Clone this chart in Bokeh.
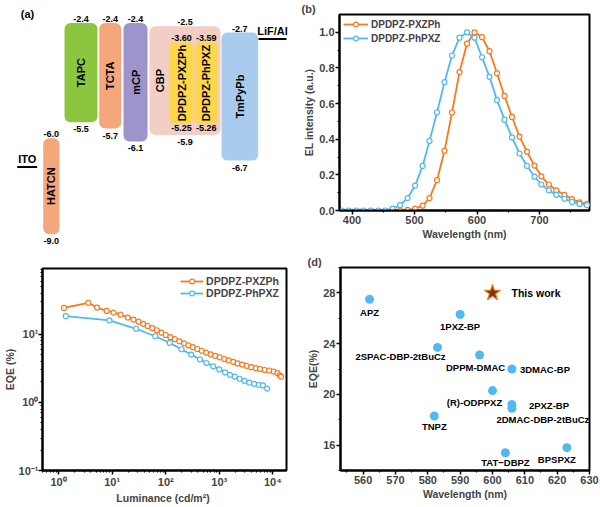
import math
from bokeh.plotting import figure
from bokeh.layouts import column, row
from bokeh.models import (Range1d, FixedTicker, Label, Legend, LegendItem, ColumnDataSource,
                          CustomJSTickFormatter)
from bokeh.embed import file_html
from bokeh.resources import INLINE
from bokeh.core.properties import value

FONT = "Liberation Sans"
ORANGE = "#f77a1c"
BLUE = "#52b8ef"

# ---------------- (a) energy level diagram data ----------------
host_names = ["HATCN", "TAPC", "TCTA", "mCP", "CBP", "TmPyPb"]
host_lumo = [-6.0, -2.4, -2.4, -2.4, -2.5, -2.7]
host_homo = [-9.0, -5.5, -5.7, -6.1, -5.9, -6.7]
host_lumo_labels = ["-6.0", "-2.4", "-2.4", "-2.4", "-2.5", "-2.7"]
host_homo_labels = ["-9.0", "-5.5", "-5.7", "-6.1", "-5.9", "-6.7"]
dopant_names = ["DPDPZ-PXZPh", "DPDPZ-PhPXZ"]
dopant_lumo = [-3.60, -3.59]
dopant_homo = [-5.25, -5.26]
dopant_lumo_labels = ["-3.60", "-3.59"]
dopant_homo_labels = ["-5.25", "-5.26"]
electrode_names = ["ITO", "LiF/Al"]
electrode_levels = [-6.9, -2.9]

# ---------------- (b) EL spectra ----------------
wl_phpxz = [384, 395, 407, 418, 430, 442, 453, 465, 477, 489, 501, 513, 524, 536, 548, 560, 572,
            584, 596, 608, 620, 632, 644, 656, 668, 680, 692, 703, 715, 727, 740, 752, 764, 776]
el_phpxz = [0.0, 0.0, 0.0, 0.0, 0.0, 0.0, 0.0, 0.01, 0.03, 0.07, 0.14, 0.25, 0.39, 0.55, 0.72, 0.87,
            0.97, 1.0, 0.97, 0.86, 0.75, 0.62, 0.51, 0.41, 0.32, 0.25, 0.19, 0.146, 0.113, 0.088,
            0.066, 0.048, 0.037, 0.03]
wl_pxzph = [477, 489, 501, 513, 524, 536, 548, 560, 572, 584, 596, 608, 620, 632, 644, 656, 668,
            680, 692, 703, 715, 727, 740, 752, 764, 776]
el_pxzph = [0.0, 0.004, 0.01, 0.027, 0.07, 0.17, 0.335, 0.55, 0.777, 0.936, 1.0, 0.973, 0.894,
            0.77, 0.643, 0.525, 0.415, 0.33, 0.252, 0.192, 0.146, 0.113, 0.088, 0.064, 0.046, 0.037]

# ---------------- (c) EQE vs luminance ----------------
lum_pxzph = [1.26, 3.59, 5.2, 7.9, 10.6, 14.4, 19.6, 25, 31, 38, 46, 56, 68, 83, 100, 122, 148,
             180, 220, 265, 320, 390, 470, 570, 690, 840, 1020, 1240, 1500, 1820, 2200, 2680,
             3250, 3950, 4800, 5800, 7050, 8550, 10400, 12200, 13500, 14200]
eqe_pxzph = [24.5, 29.1, 24.8, 22.1, 20.9, 19.5, 17.7, 16.5, 15.4, 14.3, 13.3, 12.4, 11.5, 10.6,
             9.8, 9.1, 8.5, 7.9, 7.4, 6.9, 6.5, 6.1, 5.75, 5.4, 5.1, 4.85, 4.6, 4.35, 4.15, 3.95,
             3.75, 3.6, 3.45, 3.3, 3.2, 3.1, 3.0, 2.95, 2.85, 2.7, 2.5, 2.4]
lum_phpxz = [1.36, 8.9, 28, 63.7, 119, 197, 299, 436, 577, 769, 1000, 1285, 1585, 1950, 2400,
             2950, 3640, 4470, 5500, 6530, 7850]
eqe_phpxz = [18.5, 16.1, 12.1, 9.4, 7.5, 6.05, 5.05, 4.3, 3.8, 3.39, 3.06, 2.76, 2.55, 2.39, 2.23,
             2.08, 1.96, 1.88, 1.82, 1.78, 1.6]

# ---------------- (d) comparison ----------------
cmp_names = ["APZ", "1PXZ-BP", "2SPAC-DBP-2tBuCz", "DPPM-DMAC", "3DMAC-BP", "(R)-ODPPXZ",
             "2PXZ-BP", "2DMAC-DBP-2tBuCz", "TNPZ", "TAT\u2212DBPZ", "BPSPXZ"]
cmp_wl = [562, 590, 583, 596, 606, 600, 606, 606, 582, 604, 623]
cmp_eqe = [27.5, 26.3, 23.7, 23.1, 22.0, 20.3, 19.2, 18.9, 18.3, 15.4, 15.8]
this_name = ["This work"]
this_wl = [600]
this_eqe = [28.0]

# ================= styles / layout =================
host_left = [42.7, 64, 98.7, 123, 149, 221]
host_right = [59, 97, 120.7, 147, 220, 257.7]
host_colors = ["#f5a77c", "#8cc63f", "#f5a77c", "#9e94cb", "#f2cec4", "#a9cbee"]
host_name_dx = [0, 0, 0, 0, -25.5, 0]
dopant_left = [169.3, 194.3]
dopant_right = [192.7, 217.3]
dopant_color = "#fdd64a"
DOPANT_HOST = 4            # index of CBP in the host lists
DOPANT_INSET_TOP = 16      # px, schematic inset of dopant boxes inside the host box
DOPANT_INSET_BOTTOM = 11
electrode_left = [16.7, 258]
electrode_right = [36.7, 286]


def base_style(p):
    p.xgrid.visible = False
    p.ygrid.visible = False
    p.outline_line_color = "black"
    p.outline_line_width = 2
    for ax in p.axis:
        ax.axis_line_width = 2
        ax.major_tick_line_width = 1.5
        ax.minor_tick_line_width = 1.2
        ax.major_tick_in = 0
        ax.major_tick_out = 4
        ax.minor_tick_in = 0
        ax.minor_tick_out = 2
        ax.major_label_text_font = FONT
        ax.major_label_text_font_style = "bold"
        ax.major_label_text_font_size = "11px"
        ax.axis_label_text_font = FONT
        ax.axis_label_text_font_style = "bold"
        ax.axis_label_text_font_size = "10.5px"
        ax.major_label_standoff = 1
        ax.axis_label_standoff = 1


def panel_label(p, text, x, y):
    p.add_layout(Label(x=x, y=y, x_units="canvas", y_units="canvas", text=text,
                       text_font=FONT, text_font_style="bold", text_font_size="11px",
                       text_baseline="middle", text_align="center"))


def panel_title(p, text, offset):
    p.title.text = text
    p.title.align = "left"
    p.title.offset = offset
    p.title.standoff = 0
    p.title.text_font = FONT
    p.title.text_font_style = "bold"
    p.title.text_font_size = "11px"


def no_align(p):
    if "frame_align" in p.properties():
        p.frame_align = False


TXT = dict(text_font=value(FONT), text_font_style="bold")

# ---------------- panel (a) ----------------
PX_PER_EV = 32.0
A_H = 253
TOP_PX = 22.5   # pixel row of -2.4 eV
pa = figure(width=300, height=A_H, x_range=Range1d(0, 300),
            y_range=Range1d(-2.4 - (A_H - TOP_PX) / PX_PER_EV, -2.4 + TOP_PX / PX_PER_EV),
            x_axis_location=None, y_axis_location=None, toolbar_location=None,
            output_backend="svg", min_border=0)
no_align(pa)
pa.outline_line_color = None
pa.grid.visible = False

cx_h = [(l + r) / 2 for l, r in zip(host_left, host_right)]
src_h = ColumnDataSource(dict(left=host_left, right=host_right, top=host_lumo, bottom=host_homo,
                              color=host_colors, name=host_names,
                              mid=[(a + b) / 2 for a, b in zip(host_lumo, host_homo)],
                              cx=cx_h, nx=[c + d for c, d in zip(cx_h, host_name_dx)],
                              lt=host_lumo_labels, ht=host_homo_labels))
pa.quad(left="left", right="right", top="top", bottom="bottom", fill_color="color",
        line_color=None, border_radius=6, source=src_h)
pa.text(x="nx", y="mid", text="name", angle=math.pi / 2, text_align="center",
        text_baseline="middle", text_font_size="11px", source=src_h, **TXT)
pa.text(x="cx", y="top", text="lt", text_align="center", text_baseline="bottom", y_offset=-1,
        text_font_size="9px", source=src_h, **TXT)
pa.text(x="cx", y="bottom", text="ht", text_align="center", text_baseline="top", y_offset=4,
        text_font_size="9px", source=src_h, **TXT)

# dopant boxes drawn as insets of the CBP host box (schematic, as in the original diagram)
d_top = [host_lumo[DOPANT_HOST] - DOPANT_INSET_TOP / PX_PER_EV] * len(dopant_names)
d_bot = [host_homo[DOPANT_HOST] + DOPANT_INSET_BOTTOM / PX_PER_EV] * len(dopant_names)
cx_d = [(l + r) / 2 for l, r in zip(dopant_left, dopant_right)]
src_d_a = ColumnDataSource(dict(left=dopant_left, right=dopant_right, top=d_top, bottom=d_bot,
                                name=dopant_names, mid=[(a + b) / 2 for a, b in zip(d_top, d_bot)],
                                cx=cx_d, lt=dopant_lumo_labels, ht=dopant_homo_labels))
pa.quad(left="left", right="right", top="top", bottom="bottom", fill_color=dopant_color,
        line_color=None, border_radius=5, source=src_d_a)
pa.text(x="cx", y="mid", text="name", angle=math.pi / 2, text_align="center",
        text_baseline="middle", text_font_size="11px", source=src_d_a, **TXT)
pa.text(x="cx", y="top", text="lt", text_align="center", text_baseline="bottom", y_offset=-1,
        text_font_size="9px", source=src_d_a, **TXT)
pa.text(x="cx", y="bottom", text="ht", text_align="center", text_baseline="top", y_offset=1,
        text_font_size="9px", source=src_d_a, **TXT)

src_e = ColumnDataSource(dict(x0=electrode_left, x1=electrode_right, y=electrode_levels,
                              cx=[(a + b) / 2 for a, b in zip(electrode_left, electrode_right)],
                              name=electrode_names))
pa.segment(x0="x0", x1="x1", y0="y", y1="y", line_color="black", line_width=2, source=src_e)
pa.text(x="cx", y="y", text="name", text_align="center", text_baseline="bottom", y_offset=-2,
        text_font_size="11px", source=src_e, **TXT)
# panel letter (a): placed at pixel (27, 13) of this axis-less frame
pa.text(x=[27], y=[-2.4 + (TOP_PX - 13) / PX_PER_EV], text=["(a)"], text_align="center",
        text_baseline="middle", text_font_size="11px", **TXT)

# ---------------- panel (b) ----------------
pb = figure(width=300, height=253, x_range=Range1d(380, 780), y_range=Range1d(0, 1.1),
            toolbar_location=None, output_backend="svg",
            min_border_left=38, min_border_right=11, min_border_top=5, min_border_bottom=43,
            x_axis_label="Wavelength (nm)", y_axis_label="EL intensity (a.u.)")
no_align(pb)
base_style(pb)
panel_title(pb, "(b)", -38)
pb.xaxis.ticker = FixedTicker(ticks=[400, 500, 600, 700], minor_ticks=[450, 550, 650, 750])
pb.yaxis.ticker = FixedTicker(ticks=[0.0, 0.2, 0.4, 0.6, 0.8, 1.0],
                              minor_ticks=[0.1, 0.3, 0.5, 0.7, 0.9])
pb.yaxis.formatter = CustomJSTickFormatter(code="return tick.toFixed(1);")
bl1 = pb.line(wl_pxzph, el_pxzph, color=ORANGE, line_width=1.8)
bs1 = pb.scatter(wl_pxzph, el_pxzph, marker="circle", size=5, fill_color="white",
                 line_color=ORANGE, line_width=1.2)
bl2 = pb.line(wl_phpxz, el_phpxz, color=BLUE, line_width=1.8)
bs2 = pb.scatter(wl_phpxz, el_phpxz, marker="circle", size=5, fill_color="white",
                 line_color=BLUE, line_width=1.2)
leg_b = Legend(items=[LegendItem(label="DPDPZ-PXZPh", renderers=[bl1, bs1]),
                      LegendItem(label="DPDPZ-PhPXZ", renderers=[bl2, bs2])],
               location="top_left", margin=4, padding=0, spacing=2, border_line_color=None,
               background_fill_alpha=0, label_text_font=FONT, label_text_font_style="bold",
               label_text_font_size="10px", glyph_width=25, glyph_height=12, label_height=12,
               label_standoff=3)
pb.add_layout(leg_b)

# ---------------- panel (c) ----------------
sup_fmt = CustomJSTickFormatter(code="""
const s = {"-": "\u207b", "0": "\u2070", "1": "\u00b9", "2": "\u00b2", "3": "\u00b3", "4": "\u2074"};
const e = Math.round(Math.log10(tick));
return "10" + String(e).split("").map(c => s[c]).join("");
""")
pc = figure(width=300, height=254, x_axis_type="log", y_axis_type="log",
            x_range=Range1d(0.5, 18000), y_range=Range1d(0.1, 93),
            toolbar_location=None, output_backend="svg",
            min_border_left=36, min_border_right=14, min_border_top=15, min_border_bottom=37,
            x_axis_label="Luminance  (cd/m\u00b2)", y_axis_label="EQE (%)")
no_align(pc)
base_style(pc)
pc.yaxis.major_label_standoff = 0
pc.yaxis.axis_label_standoff = 0
pc.xaxis.ticker = FixedTicker(ticks=[1, 10, 100, 1000, 10000],
                              minor_ticks=[m * 10 ** k for k in range(-1, 5) for m in range(2, 10)])
pc.yaxis.ticker = FixedTicker(ticks=[0.1, 1, 10],
                              minor_ticks=[m * 10 ** k for k in range(-1, 2) for m in range(2, 10)])
pc.xaxis.formatter = sup_fmt
pc.yaxis.formatter = sup_fmt
cl1 = pc.line(lum_pxzph, eqe_pxzph, color=ORANGE, line_width=1.8)
cs1 = pc.scatter(lum_pxzph, eqe_pxzph, marker="circle", size=5, fill_color="white",
                 line_color=ORANGE, line_width=1.2)
cl2 = pc.line(lum_phpxz, eqe_phpxz, color=BLUE, line_width=1.8)
cs2 = pc.scatter(lum_phpxz, eqe_phpxz, marker="circle", size=5, fill_color="white",
                 line_color=BLUE, line_width=1.2)
leg_c = Legend(items=[LegendItem(label="DPDPZ-PXZPh", renderers=[cl1, cs1]),
                      LegendItem(label="DPDPZ-PhPXZ", renderers=[cl2, cs2])],
               location="top_right", margin=7, padding=0, spacing=0, border_line_color=None,
               background_fill_alpha=0, label_text_font=FONT, label_text_font_style="bold",
               label_text_font_size="10.5px", glyph_width=23, glyph_height=12, label_height=12,
               label_standoff=3)
pc.add_layout(leg_c)
panel_label(pc, "(c)", 20, 21)

# ---------------- panel (d) ----------------
pd_ = figure(width=300, height=254, x_range=Range1d(553, 630), y_range=Range1d(14, 30),
             toolbar_location=None, output_backend="svg",
             min_border_left=40, min_border_right=11, min_border_top=14, min_border_bottom=37,
             x_axis_label="Wavelength (nm)", y_axis_label="EQE(%)")
no_align(pd_)
base_style(pd_)
panel_title(pd_, "(d)", -33)
pd_.xaxis.ticker = FixedTicker(ticks=list(range(560, 631, 10)), minor_ticks=list(range(555, 631, 10)))
pd_.yaxis.ticker = FixedTicker(ticks=[16, 20, 24, 28], minor_ticks=[14, 18, 22, 26, 30])

lbl_align = ["center", "center", "center", "center", "left", "center", "left", "center",
             "center", "center", "center"]
lbl_dx = [0, 0, -37, -4, 8, -18, 17, 31, 0, 0, -10]
lbl_dy = [13, 12, 9, 12, 0, 12, 1, 11, 11, 10, 12]
src_d = ColumnDataSource(dict(x=cmp_wl, y=cmp_eqe, name=cmp_names, align=lbl_align,
                              dx=lbl_dx, dy=lbl_dy))
pd_.scatter(x="x", y="y", marker="circle", size=9, fill_color=BLUE, line_color=None, source=src_d)
pd_.text(x="x", y="y", text="name", text_align="align", text_baseline="middle",
         x_offset="dx", y_offset="dy", text_font_size="9.5px", source=src_d, **TXT)
pd_.scatter(this_wl, this_eqe, marker="star", size=17, fill_color="#7a3812",
            line_color="#f07a1e", line_width=1.2)
pd_.text(this_wl, this_eqe, text=this_name, text_align="left", text_baseline="middle",
         x_offset=19, text_font_size="10.5px", **TXT)

layout = column(row(pa, pb), row(pc, pd_))
open("out.html", "w").write(file_html(layout, INLINE))
